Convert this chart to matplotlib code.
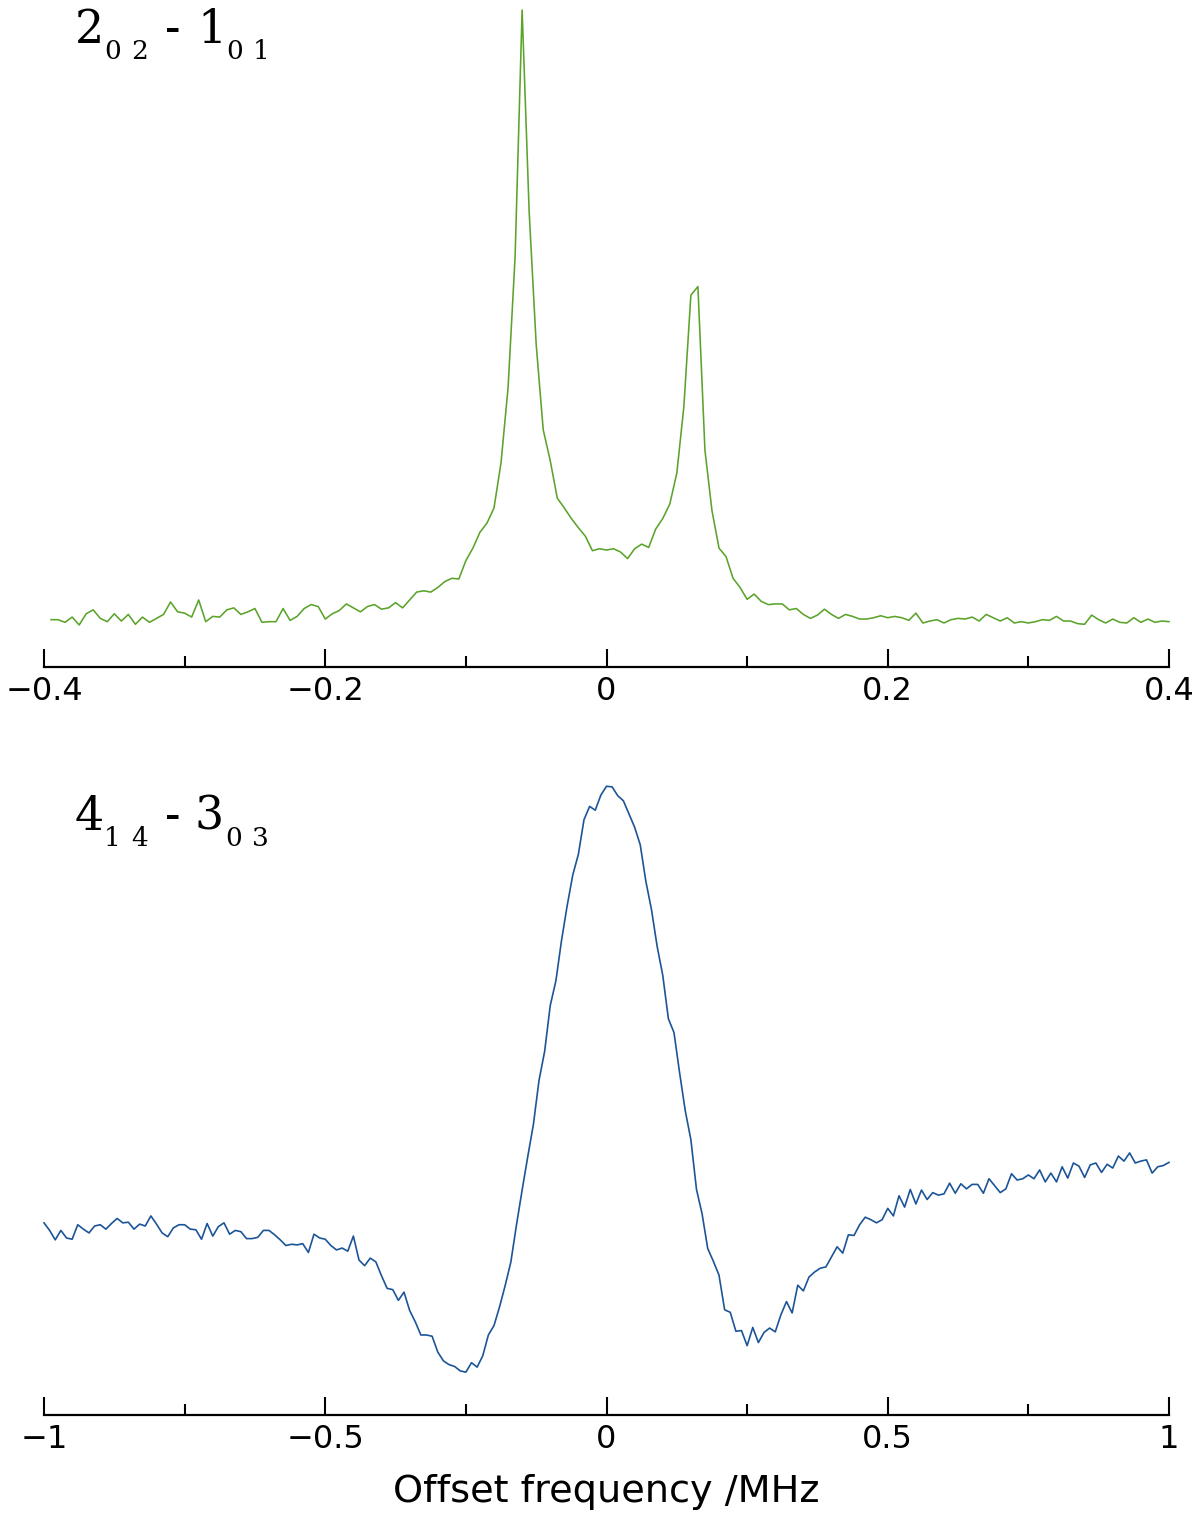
import numpy as np
import matplotlib.pyplot as plt

# relative intensity (% of strongest point)
# 2(0,2)-1(0,1): sampled every 5 kHz from -0.395 to 0.400 MHz
intens_202 = [
    7.2, 7.2, 6.8, 7.6, 6.4, 8.1, 8.7, 7.4, 6.9, 8.1,
    7.0, 8.0, 6.5, 7.6, 6.8, 7.4, 8.0, 9.9, 8.4, 8.2,
    7.6, 10.2, 6.9, 7.7, 7.6, 8.7, 9.0, 8.0, 8.4, 8.9,
    6.8, 6.9, 6.9, 8.9, 7.1, 7.7, 8.9, 9.5, 9.2, 7.3,
    8.1, 8.6, 9.6, 9.0, 8.4, 9.2, 9.5, 8.8, 9.0, 9.8,
    9.0, 10.2, 11.4, 11.6, 11.4, 12.1, 13.0, 13.5, 13.4, 16.2,
    18.1, 20.5, 21.9, 24.2, 31.1, 42.5, 62.4, 100.0, 69.3, 49.1,
    36.1, 31.4, 25.7, 24.2, 22.6, 21.2, 19.9, 17.7, 18.0, 17.8,
    18.0, 17.5, 16.5, 18.0, 18.7, 18.2, 21.0, 22.6, 24.8, 29.5,
    39.6, 56.6, 57.9, 33.0, 23.8, 18.1, 16.8, 13.5, 12.1, 10.3,
    11.1, 10.0, 9.5, 9.6, 9.6, 8.7, 8.9, 8.0, 7.4, 7.9,
    8.8, 8.0, 7.4, 8.0, 7.7, 7.3, 7.3, 7.5, 7.8, 7.5,
    7.7, 7.5, 7.1, 8.2, 6.7, 7.0, 7.2, 6.7, 7.2, 7.4,
    7.3, 7.6, 7.0, 8.0, 7.5, 7.0, 7.5, 6.7, 6.9, 6.7,
    6.9, 7.2, 7.1, 7.7, 7.0, 7.0, 6.6, 6.5, 7.9, 7.2,
    6.7, 7.3, 6.8, 6.7, 7.5, 6.8, 7.3, 6.8, 7.0, 6.9,
]

# 4(1,4)-3(0,3): sampled every 10 kHz from -1 to 1 MHz
intens_414 = [
    30.5, 29.3, 27.8, 29.3, 28.1, 27.9, 30.2, 29.5, 28.9, 30.0,
    30.2, 29.5, 30.4, 31.2, 30.5, 30.6, 29.5, 30.3, 30.0, 31.6,
    30.3, 28.9, 28.3, 29.7, 30.2, 30.2, 29.5, 29.4, 27.9, 30.4,
    28.4, 29.9, 30.5, 28.7, 29.3, 29.1, 28.0, 28.0, 28.2, 29.3,
    29.3, 28.6, 27.8, 26.9, 27.1, 27.0, 27.2, 25.8, 28.7, 28.1,
    27.9, 26.9, 26.2, 26.5, 26.0, 28.4, 24.6, 23.7, 24.9, 24.3,
    22.1, 20.1, 19.9, 18.2, 19.5, 16.6, 14.8, 12.7, 12.7, 12.5,
    10.0, 8.6, 8.0, 7.7, 7.0, 6.8, 8.3, 7.6, 9.4, 12.7,
    14.2, 17.2, 20.6, 24.3, 30.2, 35.7, 41.0, 46.1, 53.1, 57.7,
    65.0, 68.9, 75.3, 80.8, 85.7, 89.0, 94.5, 96.6, 96.0, 98.4,
    99.8, 99.7, 98.3, 97.5, 95.4, 93.3, 90.5, 84.7, 80.2, 74.4,
    69.8, 62.9, 60.7, 54.3, 48.3, 43.7, 35.8, 31.9, 26.4, 24.4,
    22.2, 16.7, 16.3, 13.3, 13.4, 11.0, 13.9, 11.5, 13.1, 13.8,
    13.2, 15.9, 18.0, 16.2, 20.6, 19.7, 21.9, 22.7, 23.3, 23.5,
    25.1, 26.7, 25.7, 28.6, 28.5, 30.2, 31.4, 31.0, 30.5, 31.0,
    32.8, 31.6, 34.8, 33.0, 35.8, 33.5, 35.7, 34.2, 35.3, 34.9,
    35.1, 36.8, 35.2, 36.7, 35.9, 36.6, 36.6, 35.2, 37.5, 36.4,
    35.3, 35.9, 38.3, 37.3, 37.5, 38.1, 37.5, 38.9, 37.0, 38.4,
    37.0, 39.4, 37.6, 40.0, 39.5, 37.7, 39.7, 40.0, 38.5, 39.8,
    39.2, 41.1, 40.3, 41.6, 40.0, 40.3, 40.5, 38.4, 39.4, 39.6, 40.1,
]

# spectrometer sampling grids (MHz)
freq_202 = np.linspace(-0.395, 0.400, len(intens_202))
freq_414 = np.linspace(-1.0, 1.0, len(intens_414))

ticks_202 = [-0.4, -0.2, 0, 0.2, 0.4]
ticklabels_202 = ["\u22120.4", "\u22120.2", "0", "0.2", "0.4"]
minor_202 = [-0.3, -0.1, 0.1, 0.3]
ticks_414 = [-1, -0.5, 0, 0.5, 1]
ticklabels_414 = ["\u22121", "\u22120.5", "0", "0.5", "1"]
minor_414 = [-0.75, -0.25, 0.25, 0.75]

W, H = 1200, 1526
fig = plt.figure(figsize=(W / 100, H / 100), dpi=100)


def px_axes(left, top, right, bottom):
    return fig.add_axes([left / W, 1 - bottom / H, (right - left) / W, (bottom - top) / H])


def style(ax, xlim, ticks, labels, minor):
    ax.set_xlim(*xlim)
    ax.set_ylim(0, 100)
    for side in ["left", "right", "top"]:
        ax.spines[side].set_visible(False)
    ax.spines["bottom"].set_linewidth(1.6)
    ax.set_yticks([])
    ax.set_xticks(ticks)
    ax.set_xticklabels(labels)
    ax.set_xticks(minor, minor=True)
    ax.tick_params(axis="x", which="major", direction="in", length=13, width=1.5,
                   labelsize=23, pad=6.5)
    ax.tick_params(axis="x", which="minor", direction="in", length=8, width=1.5)


def transition(pieces, base_main, base_sub):
    # pieces: (text, x in px, is_subscript)
    for s, x, sub in pieces:
        fig.text(x / W, 1 - (base_sub if sub else base_main) / H, s,
                 fontsize=19 if sub else 33, family="DejaVu Serif",
                 ha="left", va="baseline")


ax1 = px_axes(44, 10, 1169, 667)
ax1.plot(freq_202, intens_202, color="#5ba32b", lw=1.15, clip_on=False)
style(ax1, (-0.4, 0.4), ticks_202, ticklabels_202, minor_202)

ax2 = px_axes(44, 785, 1169, 1415)
ax2.plot(freq_414, intens_414, color="#1c5597", lw=1.2, clip_on=False)
style(ax2, (-1, 1), ticks_414, ticklabels_414, minor_414)
ax2.set_xlabel("Offset frequency /MHz", fontsize=27.5, labelpad=14)

transition([("2", 75, False), ("0", 104, True), ("2", 131, True), ("-", 165, False),
            ("1", 197, False), ("0", 226, True), ("1", 253, True)], 43, 59)
transition([("4", 75, False), ("1", 104, True), ("4", 131, True), ("-", 165, False),
            ("3", 195, False), ("0", 225, True), ("3", 252, True)], 830, 846)

fig.savefig("out.png", dpi=100)
